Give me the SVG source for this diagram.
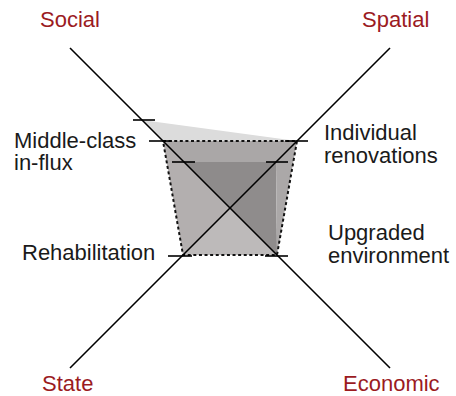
<svg xmlns="http://www.w3.org/2000/svg" width="456" height="396" viewBox="0 0 456 396">
<style>
.axis{stroke:#000;stroke-width:1.6;fill:none}
.tick{stroke:#000;stroke-width:1.6;fill:none}
.outline{stroke:#111;stroke-width:2;stroke-dasharray:3 2.6;fill:none}
.dim{font-family:"Liberation Sans",Arial,sans-serif;font-size:22px;fill:#9b1b1f}
.lbl{font-family:"Liberation Sans",Arial,sans-serif;font-size:22px;fill:#1a1a1a}
</style>
<rect width="456" height="396" fill="#fff"/>
<g id="shading">
<polygon points="142,120 297,141 163,141" fill="#dcdcdc"/>
<polygon points="163,141 297,141 276,162 184,162" fill="#aaa7a7"/>
<polygon points="184,162 276,162 230,208" fill="#8e8b8b"/>
<polygon points="230,208 276,162 277,255" fill="#8f8c8c"/>
<polygon points="276,162 297,141 277,255" fill="#aba8a8"/>
<polygon points="230,208 163,141 183,255" fill="#b3afaf"/>
<polygon points="230,208 183,255 277,255" fill="#bdbaba"/>
</g>
<g id="outline">
<polygon class="outline" points="163,141 297,141 277,255 183,255"/>
</g>
<g id="connectors">
<line class="axis" x1="70" y1="48" x2="390" y2="368"/>
<line class="axis" x1="390" y1="48" x2="70" y2="368"/>
<line class="tick" x1="133" y1="120" x2="155" y2="120"/>
<line class="tick" x1="149" y1="141" x2="172" y2="141"/>
<line class="tick" x1="172" y1="162" x2="195" y2="162"/>
<line class="tick" x1="285" y1="141" x2="308" y2="141"/>
<line class="tick" x1="266" y1="162" x2="288" y2="162"/>
<line class="tick" x1="168" y1="256" x2="192" y2="256"/>
<line class="tick" x1="265" y1="256" x2="288" y2="256"/>
</g>
<g id="social"><text class="dim" x="40" y="27">Social</text></g>
<g id="spatial"><text class="dim" x="362" y="27">Spatial</text></g>
<g id="state"><text class="dim" x="42" y="391">State</text></g>
<g id="economic"><text class="dim" x="343" y="391">Economic</text></g>
<g id="middle-class"><text class="lbl" x="14" y="148">Middle-class</text><text class="lbl" x="14" y="170">in-flux</text></g>
<g id="individual-renovations"><text class="lbl" x="324" y="140">Individual</text><text class="lbl" x="324" y="163">renovations</text></g>
<g id="rehabilitation"><text class="lbl" x="22" y="260">Rehabilitation</text></g>
<g id="upgraded-environment"><text class="lbl" x="328" y="240">Upgraded</text><text class="lbl" x="328" y="263">environment</text></g>
</svg>
